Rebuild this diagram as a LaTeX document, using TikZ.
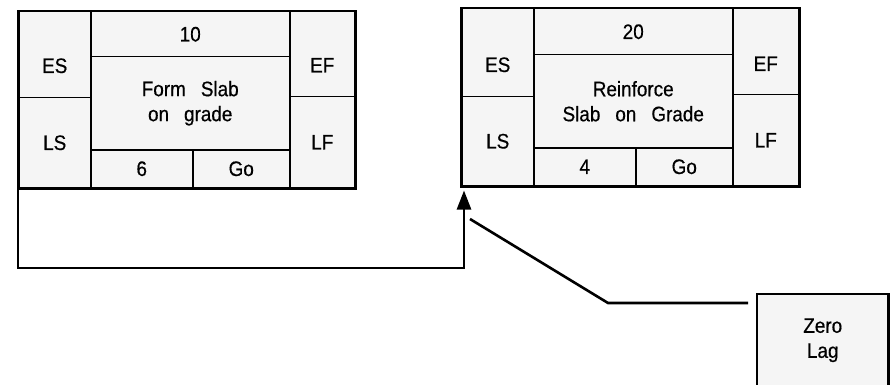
\documentclass[tikz,border=0pt]{standalone}
\usepackage{fontspec}
\setmainfont{Liberation Sans}[FakeStretch=0.9,FakeBold=0.5]
\usetikzlibrary{arrows.meta}
\newcommand\cellfont{\fontsize{21}{25}\selectfont\spaceskip 15pt plus 2pt\relax}
\begin{document}
\begin{tikzpicture}[x=1pt,y=-1pt,
  cell/.style={draw=black, line width=1.5pt, fill=black!4, inner sep=0pt,
    anchor=north west, align=center, font=\cellfont},
  captext/.style={font=\cellfont, inner sep=0pt},
  frame/.style={draw=black, line width=2.8pt},
  link/.style={draw=black, line width=2.6pt},
  tip/.style={-{Triangle[length=19pt,width=14pt]}},
]
\fill[white] (0,0) rectangle (891,385);
\useasboundingbox (0,0) rectangle (891,385);

% Activity 1
\node[cell, minimum width=72pt, minimum height=86pt, label={[captext,yshift=-11pt]center:ES}] (b1es) at (18,11) {};
\node[cell, minimum width=72pt, minimum height=90pt] (b1ls) at (18,97) {LS};
\node[cell, minimum width=199pt, minimum height=45pt] (b1dur) at (90,11) {10};
\node[cell, minimum width=199pt, minimum height=93pt] (b1name) at (90,56) {Form Slab\\on grade};
\node[cell, minimum width=102pt, minimum height=38pt] (b1ff) at (90,149) {6};
\node[cell, minimum width=97pt, minimum height=38pt] (b1go) at (192,149) {Go};
\node[cell, minimum width=65pt, minimum height=85pt, label={[captext,yshift=-11pt]center:EF}] (b1ef) at (289,11) {};
\node[cell, minimum width=65pt, minimum height=91pt] (b1lf) at (289,96) {LF};
\draw[frame] (b1es.north west) rectangle (b1lf.south east);

% Activity 2
\node[cell, minimum width=72pt, minimum height=88pt, label={[captext,yshift=-12pt]center:ES}] (b2es) at (461,8) {};
\node[cell, minimum width=72pt, minimum height=89pt] (b2ls) at (461,96) {LS};
\node[cell, minimum width=199pt, minimum height=46pt] (b2dur) at (533,8) {20};
\node[cell, minimum width=199pt, minimum height=93pt] (b2name) at (533,54) {Reinforce\\Slab on Grade};
\node[cell, minimum width=102pt, minimum height=38pt] (b2ff) at (533,147) {4};
\node[cell, minimum width=97pt, minimum height=38pt] (b2go) at (635,147) {Go};
\node[cell, minimum width=66pt, minimum height=86pt, label={[captext,yshift=-12pt]center:EF}] (b2ef) at (732,8) {};
\node[cell, minimum width=66pt, minimum height=91pt] (b2lf) at (732,94) {LF};
\draw[frame] (b2es.north west) rectangle (b2lf.south east);

% Zero lag note
\node[cell, draw=none, minimum width=130pt, minimum height=91pt] (lag) at (757,294) {Zero\\Lag};
\draw[frame] ([yshift=-4pt]lag.south west) |- (lag.north east) -- ([yshift=-4pt]lag.south east);

% Connectors
\coordinate (c1) at (19,268);
\coordinate (atip) at ([xshift=3pt,yshift=-4pt]b2ls.south west);
\draw[link, tip] (b1ls.south west) -- (b1ls.south west |- c1) -| (atip);

\coordinate (d1) at (470,219);
\coordinate (d2) at (608,303);
\coordinate (d3) at (748,303);
\draw[link] (d1) -- (d2) -- (d3);
\end{tikzpicture}
\end{document}
